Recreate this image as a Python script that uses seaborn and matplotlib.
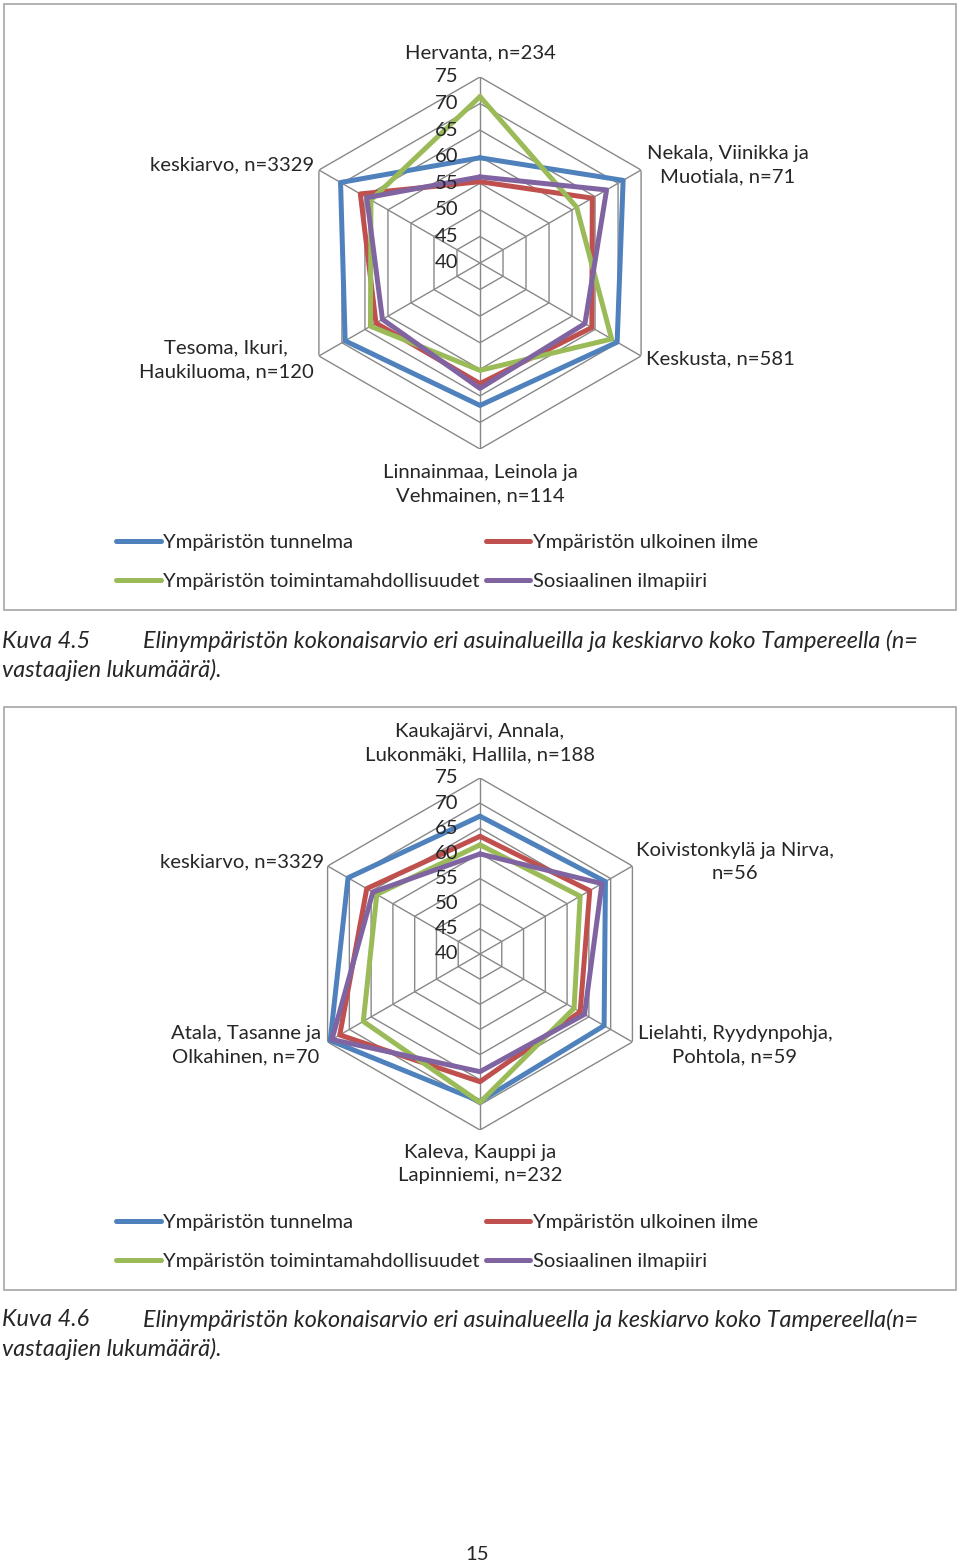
import numpy as np
import pandas as pd
import matplotlib
matplotlib.use('Agg')
import matplotlib.pyplot as plt
import matplotlib.transforms as mtransforms
from matplotlib.patches import Rectangle
import seaborn as sns

# data ---------------------------------------------------------------
series = ['Ympäristön tunnelma', 'Ympäristön ulkoinen ilme',
          'Ympäristön toimintamahdollisuudet', 'Sosiaalinen ilmapiiri']
colors = ['#4F81BD', '#C0504D', '#9BBB59', '#8064A2']
rings = [40, 45, 50, 55, 60, 65, 70, 75]

# Kuva 4.5 (clockwise from top)
areas_45 = ['Hervanta, n=234', 'Nekala, Viinikka ja\nMuotiala, n=71', 'Keskusta, n=581',
            'Linnainmaa, Leinola ja\nVehmainen, n=114', 'Tesoma, Ikuri,\nHaukiluoma, n=120',
            'keskiarvo, n=3329']
tunnelma_45 = [59.8, 71.1, 69.8, 66.8, 69.3, 70.3]
ulkoinen_45 = [55.3, 64.4, 64.3, 62.7, 62.6, 66.0]
toiminta_45 = [71.3, 61.0, 68.6, 60.2, 63.8, 63.7]
sosiaali_45 = [56.2, 67.5, 62.8, 63.6, 61.2, 64.6]

# Kuva 4.6
areas_46 = ['Kaukajärvi, Annala,\nLukonmäki, Hallila, n=188', 'Koivistonkylä ja Nirva,\nn=56',
            'Lielahti, Ryydynpohja,\nPohtola, n=59', 'Kaleva, Kauppi ja\nLapinniemi, n=232',
            'Atala, Tasanne ja\nOlkahinen, n=70', 'keskiarvo, n=3329']
tunnelma_46 = [67.4, 68.8, 68.5, 69.3, 74.4, 70.3]
ulkoinen_46 = [63.4, 65.2, 63.0, 65.4, 72.2, 66.0]
toiminta_46 = [61.7, 63.0, 61.6, 69.5, 66.8, 63.7]
sosiaali_46 = [59.9, 68.0, 64.0, 63.4, 74.0, 64.6]

caption_45 = 'Elinympäristön kokonaisarvio eri asuinalueilla ja keskiarvo koko Tampereella (n='
caption_46 = 'Elinympäristön kokonaisarvio eri asuinalueella ja keskiarvo koko Tampereella(n='

W, H = 960, 1563
GRID = '#888888'
FS = 14.6
CAP_FS = 16.8

sns.set_style('white')
plt.rcParams['font.family'] = ['Lato', 'DejaVu Sans']


def fx(x):
    return x / W


def fy(y):
    return 1 - y / H


def radar(fig, cx, cy, rad, values):
    ax = fig.add_axes([fx(cx - rad), fy(cy + rad), 2 * rad / W, 2 * rad / H], projection='polar')
    ax.set_theta_offset(np.pi / 2)
    ax.set_theta_direction(-1)
    n = len(values[0])
    theta = [2 * np.pi * i / n for i in range(n)] + [2 * np.pi]

    # hexagon grid
    for r in rings[1:]:
        ax.plot(theta, [r] * (n + 1), color=GRID, lw=1, zorder=1)
    for t in theta[:-1]:
        ax.plot([t, t], [rings[0], rings[-1]], color=GRID, lw=1, zorder=1)

    rows = []
    for name, vals in zip(series, values):
        closed = list(vals) + [vals[0]]
        for t, v in zip(theta, closed):
            rows.append({'theta': t, 'value': v, 'serie': name})
    df = pd.DataFrame(rows)
    sns.lineplot(data=df, x='theta', y='value', hue='serie', hue_order=series,
                 palette=colors, sort=False, estimator=None, lw=3.6, ax=ax, zorder=3)
    ax.get_legend().remove()
    ax.set_ylim(rings[0], rings[-1])
    ax.set_xticks([])
    ax.set_yticks([])
    ax.set_xlabel('')
    ax.set_ylabel('')
    ax.grid(False)
    ax.spines['polar'].set_visible(False)
    ax.patch.set_alpha(0)

    off = mtransforms.offset_copy(ax.transData, fig=fig, x=-33, y=0, units='dots')
    for r in rings:
        ax.text(0, r, str(r), transform=off, ha='center', va='center', fontsize=FS, zorder=5)
    return ax


fig = plt.figure(figsize=(W / 100, H / 100), dpi=100)

# frames
for top, bottom in [(4, 610), (707, 1290)]:
    fig.add_artist(Rectangle((fx(4), fy(bottom)), fx(952), (bottom - top) / H,
                             transform=fig.transFigure, fill=False, edgecolor='#A6A6A6', lw=1.2))

ax1 = radar(fig, 480, 263, 186, [tunnelma_45, ulkoinen_45, toiminta_45, sosiaali_45])
ax2 = radar(fig, 480, 954, 176, [tunnelma_46, ulkoinen_46, toiminta_46, sosiaali_46])

# area labels (pixel positions of label centres)
pos_45 = [(480, 53), (728, 165), (720, 359), (480, 484), (226, 360), (232, 165)]
pos_46 = [(480, 743), (735, 862), (735, 1045), (480, 1164), (246, 1045), (242, 862)]
for labels, pos in [(areas_45, pos_45), (areas_46, pos_46)]:
    for lab, (x, y) in zip(labels, pos):
        fig.text(fx(x), fy(y), lab, ha='center', va='center', multialignment='center',
                 fontsize=FS, linespacing=1.48)

# legends
line_handles = [l for l in ax1.get_lines() if l.get_linewidth() > 2][:4]
order = [0, 2, 1, 3]
for ly in [562, 1242]:
    fig.legend([line_handles[i] for i in order], [series[i] for i in order], ncol=2,
               loc='center left', bbox_to_anchor=(fx(116), fy(ly)), frameon=False,
               fontsize=FS, handlelength=2.2, handletextpad=0.12, columnspacing=0.3,
               labelspacing=1.1, borderpad=0, borderaxespad=0)

# captions
for y, cap, num in [(641, caption_45, 'Kuva 4.5'), (1320, caption_46, 'Kuva 4.6')]:
    fig.text(fx(2), fy(y), num, style='italic', fontsize=CAP_FS, va='center')
    fig.text(fx(143), fy(y), cap, style='italic', fontsize=CAP_FS, va='center')
    fig.text(fx(2), fy(y + 29), 'vastaajien lukumäärä).', style='italic', fontsize=CAP_FS, va='center')

fig.text(fx(477), fy(1554), '15', ha='center', va='center', fontsize=FS)

fig.savefig('out.png', dpi=100)
